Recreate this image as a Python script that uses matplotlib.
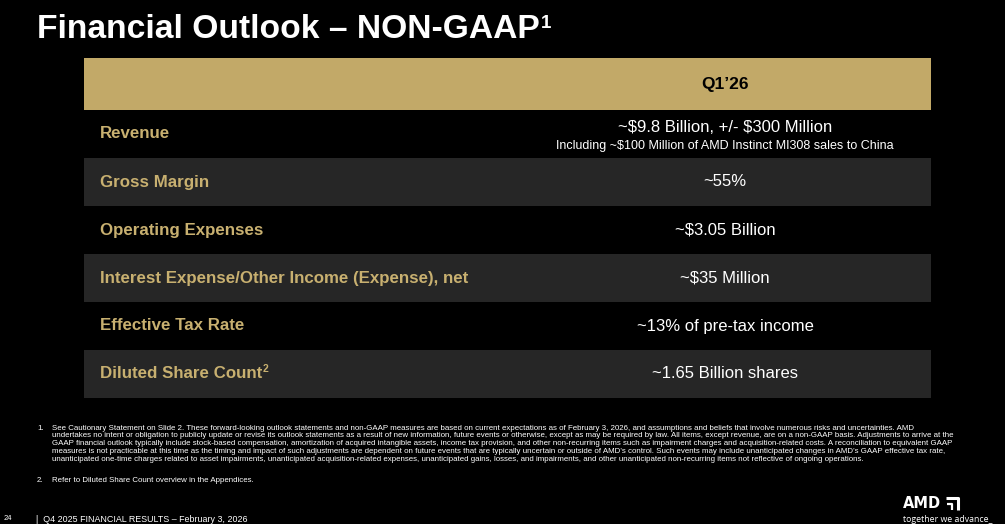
import matplotlib.pyplot as plt
import matplotlib.patches as mpatches

plt.rcParams['font.family'] = ['Liberation Sans', 'DejaVu Sans']
plt.rcParams['text.parse_math'] = False

title = "Financial Outlook \u2013 NON-GAAP"
title_mark = "1"
column_header = "Q1\u201926"
row_labels = [
    "Revenue",
    "Gross Margin",
    "Operating Expenses",
    "Interest Expense/Other Income (Expense), net",
    "Effective Tax Rate",
    "Diluted Share Count",
]
row_marks = ["", "", "", "", "", "2"]
row_values = [
    "~$9.8 Billion, +/- $300 Million",
    "~55%",
    "~$3.05 Billion",
    "~$35 Million",
    "~13% of pre-tax income",
    "~1.65 Billion shares",
]
row_notes = [
    "Including ~$100 Million of AMD Instinct MI308 sales to China",
    "", "", "", "", "",
]
footnote_1 = [
    "See Cautionary Statement on Slide 2. These forward-looking outlook statements and non-GAAP measures are based on current expectations as of February 3, 2026, and assumptions and beliefs that involve numerous risks and uncertainties. AMD",
    "undertakes no intent or obligation to publicly update or revise its outlook statements as a result of new information, future events or otherwise, except as may be required by law. All items, except revenue, are on a non-GAAP basis. Adjustments to arrive at the",
    "GAAP financial outlook typically include stock-based compensation, amortization of acquired intangible assets, income tax provision, and other non-recurring items such as impairment charges and acquisition-related costs. A reconciliation to equivalent GAAP",
    "measures is not practicable at this time as the timing and impact of such adjustments are dependent on future events that are typically uncertain or outside of AMD\u2019s control. Such events may include unanticipated changes in AMD\u2019s GAAP effective tax rate,",
    "unanticipated one-time charges related to asset impairments, unanticipated acquisition-related expenses, unanticipated gains, losses, and impairments, and other unanticipated non-recurring items not reflective of ongoing operations.",
]
footnote_2 = "Refer to Diluted Share Count overview in the Appendices."
page_number = "24"
footer = "|  Q4 2025 FINANCIAL RESULTS \u2013 February 3, 2026"

GOLD = "#c2a968"
LABEL_GOLD = "#c8b070"
GRAY = "#262626"

W, H = 1005, 524
fig = plt.figure(figsize=(W / 100, H / 100), dpi=100, facecolor="black")
ax = fig.add_axes([0, 0, 1, 1])
ax.set_xlim(0, W)
ax.set_ylim(H, 0)
ax.axis("off")
ax.set_facecolor("black")
renderer = fig.canvas.get_renderer()


def right_edge(t):
    # x of the right end of a text, in data units
    bb = t.get_window_extent(renderer=renderer)
    return ax.transData.inverted().transform((bb.x1, bb.y1))[0]


# title with superscript
t = ax.text(37, 30, title, color="white", fontsize=24.2, fontweight="bold", va="center", ha="left")
ax.text(right_edge(t) + 1, 24, title_mark, color="white", fontsize=13.5, fontweight="bold",
        va="center", ha="left")

# table
left, right = 84, 931
head_top, head_h = 58, 52
row_h = 48
val_x = 725

ax.add_patch(mpatches.Rectangle((left, head_top), right - left, head_h, color=GOLD, lw=0))
ax.text(val_x, head_top + head_h / 2 + 1, column_header, color="black", fontsize=12.5,
        fontweight="bold", ha="center", va="center")

y0 = head_top + head_h
for i, (lab, mark, val, note) in enumerate(zip(row_labels, row_marks, row_values, row_notes)):
    top = y0 + i * row_h
    if i % 2 == 1:
        ax.add_patch(mpatches.Rectangle((left, top), right - left, row_h, color=GRAY, lw=0))
    cy = top + row_h / 2
    t = ax.text(100, cy, lab, color=LABEL_GOLD, fontsize=12.2, fontweight="bold",
                ha="left", va="center")
    if mark:
        ax.text(right_edge(t) + 0.5, cy - 5, mark, color=LABEL_GOLD, fontsize=7.5,
                fontweight="bold", ha="left", va="center")
    if note:
        ax.text(val_x, cy - 6, val, color="white", fontsize=12, ha="center", va="center")
        ax.text(val_x, cy + 12, note, color="white", fontsize=9, ha="center", va="center")
    else:
        ax.text(val_x, cy, val, color="white", fontsize=12, ha="center", va="center")

# footnotes
fn_size = 5.7
ax.text(37, 428, "1.", color="white", fontsize=fn_size, ha="left", va="center")
for k, line in enumerate(footnote_1):
    ax.text(52, 428 + k * 7.9, line, color="white", fontsize=fn_size, ha="left", va="center")
ax.text(37, 481, "2.", color="white", fontsize=fn_size, ha="left", va="center")
ax.text(52, 481, footnote_2, color="white", fontsize=fn_size, ha="left", va="center")

# footer
ax.text(4, 519, page_number, color="white", fontsize=5.5, ha="left", va="center")
ax.text(36, 519, footer, color="white", fontsize=6.4, ha="left", va="center")

# AMD logo
ax.text(903, 504, "AMD", color="white", fontsize=10.5, fontweight="bold", ha="left", va="center",
        family=["DejaVu Sans"])
ax.plot([946, 958, 958], [498, 498, 510], color="white", lw=2.2, solid_capstyle="butt")
ax.plot([947, 952, 952], [504, 504, 510], color="white", lw=1.6, solid_capstyle="butt")
ax.text(903, 519, "together we advance_", color="white", fontsize=6.3, ha="left", va="center",
        family=["Open Sans", "DejaVu Sans"])

fig.savefig("out.png", dpi=100, facecolor="black")
